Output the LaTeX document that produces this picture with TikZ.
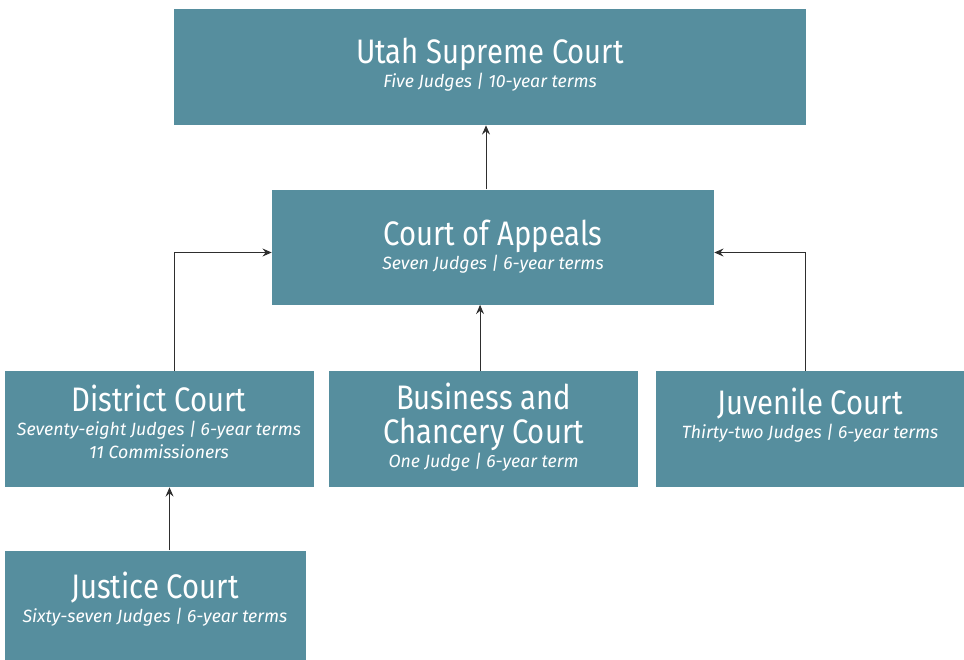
\documentclass[tikz,border=0pt]{standalone}
\usepackage{fontspec}
\setmainfont[FakeStretch=0.86]{Fira Sans}
\newfontfamily\termsfont{Fira Sans}
\usepackage{xcolor}
\definecolor{courtTeal}{HTML}{568E9E}
\definecolor{arrowGray}{HTML}{2E2E2E}
\usepackage{tikz}
\usetikzlibrary{arrows.meta, positioning}
\newcommand{\courtname}[1]{{\fontsize{25.5}{28}\selectfont #1}}
\newcommand{\courtterms}[1]{{\termsfont\fontsize{13.3}{17}\selectfont\itshape #1}}

\begin{document}
\begin{tikzpicture}[
    >={Stealth[length=7pt, width=6pt, inset=2.5pt]},
    courtBox/.style={
        rectangle,
        fill=courtTeal,
        text=white,
        minimum width=#1,
        minimum height=87pt,
        inner sep=0pt,
        align=center,
        font=\fontsize{13.3}{17}\selectfont
    },
    courtBox/.default=231.75pt,
    flowArrow/.style={
        ->,
        line width=0.75pt,
        color=arrowGray
    }
]

\useasboundingbox (0,0) rectangle (723pt,-495pt);

% Top level
\node[courtBox=474pt, text depth=6pt] (supreme) at (367.5pt,-50.25pt) {
    \courtname{Utah Supreme Court}\\[1pt]
    \courtterms{Five Judges | 10-year terms}
};

% Appellate level
\node[courtBox=331.5pt, minimum height=86.25pt, below=48pt of supreme, xshift=2.25pt] (appeals) {
    \courtname{Court of Appeals}\\[1pt]
    \courtterms{Seven Judges | 6-year terms}
};

% Trial courts
\node[courtBox, below=49.5pt of appeals, xshift=-7.1pt, text depth=6pt] (business) {
    \courtname{Business and}\\[5pt]
    \courtname{Chancery Court}\\[1pt]
    \courtterms{One Judge | 6-year term}
};

\node[courtBox, left=11.25pt of business, text depth=11pt] (district) {
    \courtname{District Court}\\[1pt]
    \courtterms{Seventy-eight Judges | 6-year terms}\\
    \courtterms{11 Commissioners}
};

\node[courtBox, right=12.75pt of business, text depth=23pt] (juvenile) {
    \courtname{Juvenile Court}\\[1pt]
    \courtterms{Thirty-two Judges | 6-year terms}
};

% Lowest level
\node[courtBox=225.75pt, minimum height=84pt, below=47.25pt of district, xshift=-3pt, text depth=14pt] (justice) {
    \courtname{Justice Court}\\[1pt]
    \courtterms{Sixty-seven Judges | 6-year terms}
};

% Appeals
\draw[flowArrow] ([xshift=-5.25pt]appeals.north) -- ([xshift=-5.25pt]appeals.north |- supreme.south);
\draw[flowArrow] ([xshift=-2.6pt]business.north) -- ([xshift=-2.6pt]business.north |- appeals.south);
\draw[flowArrow] ([xshift=11.6pt]district.north) |- ([yshift=-4.1pt]appeals.west);
\draw[flowArrow] ([xshift=-3.4pt]juvenile.north) |- ([yshift=-4.1pt]appeals.east);
\draw[flowArrow] ([xshift=10.9pt]justice.north) -- ([xshift=10.9pt]justice.north |- district.south);

\end{tikzpicture}
\end{document}
